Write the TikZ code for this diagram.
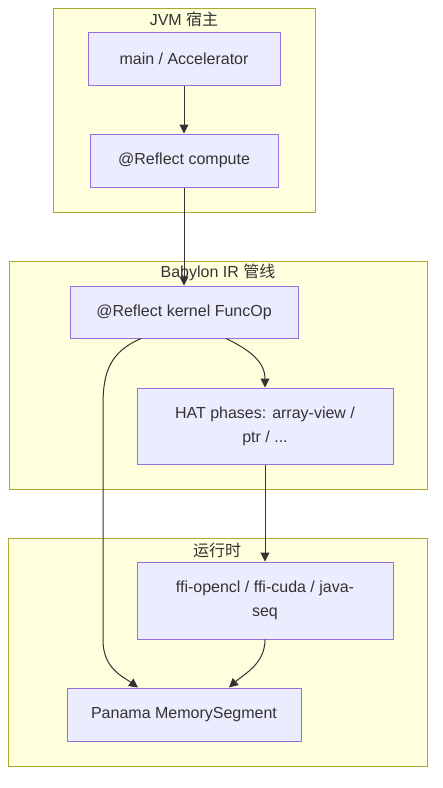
\documentclass[tikz,border=0pt]{standalone}
\usepackage{fontspec}
\setmainfont{Liberation Sans}
\newfontfamily\cjk{Noto Sans CJK SC}
\usetikzlibrary{arrows.meta}
\definecolor{clusterfill}{HTML}{FFFFDE}
\definecolor{clusterline}{HTML}{AAAA33}
\definecolor{boxfill}{HTML}{ECECFF}
\definecolor{boxline}{HTML}{9370DB}
\definecolor{ink}{HTML}{333333}
\tikzset{
  cluster/.style={draw=clusterline, fill=clusterfill, line width=1pt},
  clusterlabel/.style={text=ink, inner sep=0pt, font=\fontsize{16}{19}\selectfont},
  box/.style={draw=boxline, fill=boxfill, line width=1pt, text=ink, align=center,
    inner sep=0pt, font=\fontsize{16}{24}\selectfont},
  link/.style={draw=ink, line width=1pt, -{Triangle[length=9pt,width=9pt]}}
}
\begin{document}
\begin{tikzpicture}[x=1pt,y=-1pt]
        \useasboundingbox (0,0) rectangle (443,788);
        % JVM host
        \draw[cluster] (53,8) rectangle (315,212);
        \node[clusterlabel] (jvmlabel) at (184,19) {JVM {\cjk 宿主}};
        \node[box, minimum width=192pt, minimum height=53pt] (main) at (184,58.5) {main / Accelerator};
        \node[box, minimum width=188pt, minimum height=53pt] (compute) at (184,160.5) {@Reflect compute};

        % Babylon IR
        \draw[cluster] (9,261) rectangle (427,489);
        \node[clusterlabel] (irlabel) at (218,272) {Babylon IR {\cjk 管线}};
        \node[box, minimum width=228pt, minimum height=52pt] (funcop) at (184,312) {@Reflect kernel FuncOp};
        \node[box, minimum width=256pt, minimum height=76pt] (hat) at (265,426) {HAT phases: array-view /\\ptr / ...};

        % Runtime
        \draw[cluster] (8,538) rectangle (427,766);
        \node[clusterlabel] (rtlabel) at (217,550) {{\cjk 运行时}};
        \node[box, minimum width=256pt, minimum height=77pt] (ffi) at (265,600.5) {ffi-opencl / ffi-cuda / java-\\seq};
        \node[box, minimum width=234pt, minimum height=53pt] (panama) at (184,714.5) {Panama MemorySegment};

        % Links
        \draw[link] (main) -- (compute);
        \draw[link] (compute) -- (funcop);
        \draw[link] ([xshift=42pt]funcop.south) .. controls (250,350) and (265,362) .. (hat.north);
        \draw[link] ([xshift=-43pt]funcop.south) .. controls (110,352) and (103,372) .. (103,405)
                -- (103,640) .. controls (103,668) and (122,676) .. ([xshift=-46pt]panama.north);
        \draw[link] (hat) -- (ffi);
        \draw[link] (ffi.south) .. controls (265,664) and (244,674) .. ([xshift=45pt]panama.north);
\end{tikzpicture}
\end{document}
